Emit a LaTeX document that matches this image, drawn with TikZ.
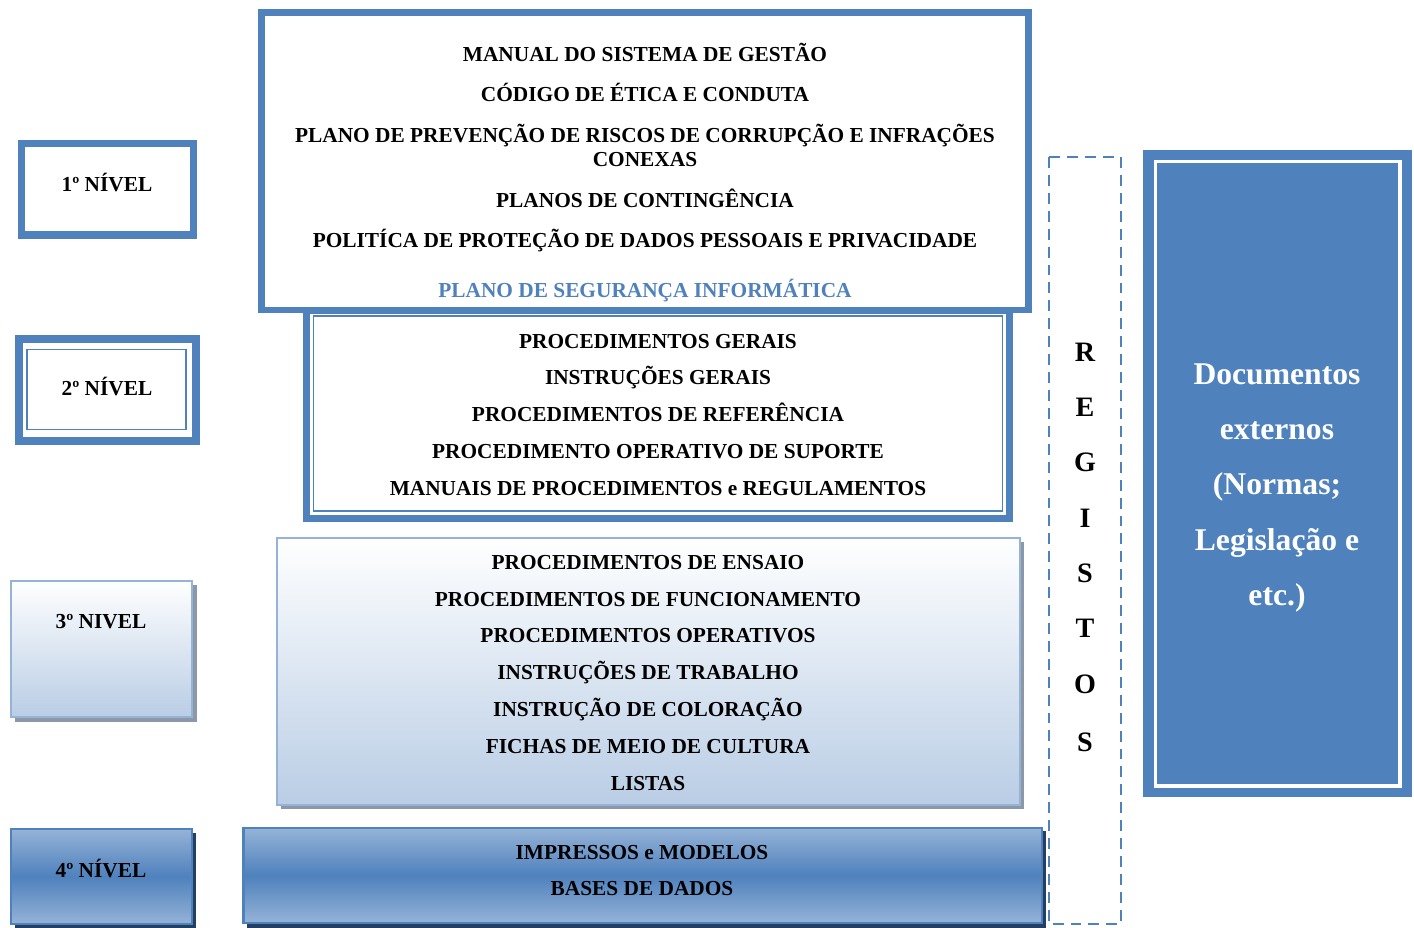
\documentclass[tikz,border=0pt]{standalone}
\usepackage{fontspec}
\setmainfont{Liberation Serif}
\definecolor{ofblue}{HTML}{4F81BD}
\definecolor{lblue}{HTML}{95B3D7}
\definecolor{gradbot}{HTML}{B9CDE5}
\definecolor{shgrey}{HTML}{8C97A8}
\definecolor{shdark}{HTML}{243F60}
\begin{document}
\begin{tikzpicture}[x=0.02cm,y=-0.02cm,
  txt/.style={font=\fontsize{12.15}{13.6}\selectfont\bfseries, inner sep=0, anchor=base, align=center},
  regtxt/.style={font=\fontsize{16}{18}\selectfont\bfseries, inner sep=0, anchor=base},
  doctxt/.style={font=\fontsize{18}{20}\selectfont\bfseries, inner sep=0, anchor=base, text=white},
  thickbox/.style={draw=ofblue, line width=4pt, fill=white},
  thinline/.style={draw=ofblue, line width=1.1pt},
  paleshadow/.style={fill=shgrey},
  paleface/.style={top color=white, bottom color=gradbot, draw=lblue, line width=1.2pt},
  darkshadow/.style={fill=shdark},
  darkface/.style={top color=lblue, bottom color=lblue, middle color=ofblue, draw=ofblue, line width=1.4pt}
]
\useasboundingbox (0,0) rectangle (1414,927);

% ---------- Level 1 ----------
\draw[thickbox] (21.5,143.5) rectangle (193.5,235);
\node[txt] (l1) at (107,191) {1º NÍVEL};

% ---------- Level 2 (main) drawn before level 1 main ----------
\draw[thickbox] (306.5,310) rectangle (1009.5,518.5);
\draw[thinline] (313.5,316) rectangle (1002.5,511);

% ---------- Level 1 main ----------
\draw[thickbox, line width=3.7pt] (261.5,12.5) rectangle (1028.5,310);
\node[txt] (a1) at (645,61) {MANUAL DO SISTEMA DE GESTÃO};
\node[txt] (a2) at (645,101) {CÓDIGO DE ÉTICA E CONDUTA};
\node[txt] (a3) at (645,142) {PLANO DE PREVENÇÃO DE RISCOS DE CORRUPÇÃO E INFRAÇÕES};
\node[txt] (a3b) at (645,166) {CONEXAS};
\node[txt] (a4) at (645,207) {PLANOS DE CONTINGÊNCIA};
\node[txt] (a5) at (645,247) {POLITÍCA DE PROTEÇÃO DE DADOS PESSOAIS E PRIVACIDADE};
\node[txt, text=ofblue] (a6) at (645,297) {PLANO DE SEGURANÇA INFORMÁTICA};

% ---------- Level 2 left ----------
\draw[thickbox] (19,339) rectangle (196,441);
\draw[thinline] (27,349.5) rectangle (186,429.5);
\node[txt] (l2) at (107,395) {2º NÍVEL};

\node[txt] (b1) at (658,348) {PROCEDIMENTOS GERAIS};
\node[txt] (b2) at (658,384) {INSTRUÇÕES GERAIS};
\node[txt] (b3) at (658,421) {PROCEDIMENTOS DE REFERÊNCIA};
\node[txt] (b4) at (658,458) {PROCEDIMENTO OPERATIVO DE SUPORTE};
\node[txt] (b5) at (658,495) {MANUAIS DE PROCEDIMENTOS e REGULAMENTOS};

% ---------- Level 3 ----------
\fill[paleshadow] (15,585) rectangle (197,722);
\shade[paleface] (11,581) rectangle (192,717);
\node[txt] (l3) at (101,628) {3º NIVEL};

\fill[paleshadow] (281,542) rectangle (1024,809);
\shade[paleface] (277,538) rectangle (1020,805);
\node[txt] (c1) at (648,569) {PROCEDIMENTOS DE ENSAIO};
\node[txt] (c2) at (648,606) {PROCEDIMENTOS DE FUNCIONAMENTO};
\node[txt] (c3) at (648,642) {PROCEDIMENTOS OPERATIVOS};
\node[txt] (c4) at (648,679) {INSTRUÇÕES DE TRABALHO};
\node[txt] (c5) at (648,716) {INSTRUÇÃO DE COLORAÇÃO};
\node[txt] (c6) at (648,753) {FICHAS DE MEIO DE CULTURA};
\node[txt] (c7) at (648,790) {LISTAS};

% ---------- Level 4 ----------
\fill[darkshadow] (15,833) rectangle (196,928);
\shade[darkface] (11,829) rectangle (192,924);
\node[txt] (l4) at (101,877) {4º NÍVEL};

\fill[darkshadow] (247,831) rectangle (1046,928);
\shade[darkface] (243.5,828) rectangle (1042,923);
\node[txt] (d1) at (642,859) {IMPRESSOS e MODELOS};
\node[txt] (d2) at (642,895) {BASES DE DADOS};

% ---------- REGISTOS ----------
\draw[draw=ofblue, line width=1.4pt, dash pattern=on 6.2pt off 4pt] (1049,157) rectangle (1121,924);
\node[regtxt] (r1) at (1085,361) {R};
\node[regtxt] (r2) at (1085,416) {E};
\node[regtxt] (r3) at (1085,471) {G};
\node[regtxt] (r4) at (1085,527) {I};
\node[regtxt] (r5) at (1085,582) {S};
\node[regtxt] (r6) at (1085,637) {T};
\node[regtxt] (r7) at (1085,693) {O};
\node[regtxt] (r8) at (1085,751) {S};

% ---------- Documentos externos ----------
\fill[ofblue] (1143,150) rectangle (1412,797);
\draw[white, line width=1.8pt] (1155.5,161.5) rectangle (1400,786);
\node[doctxt] (e1) at (1277,384) {Documentos};
\node[doctxt] (e2) at (1277,439) {externos};
\node[doctxt] (e3) at (1277,494) {(Normas;};
\node[doctxt] (e4) at (1277,550) {Legislação e};
\node[doctxt] (e5) at (1277,605) {etc.)};
\end{tikzpicture}
\end{document}
